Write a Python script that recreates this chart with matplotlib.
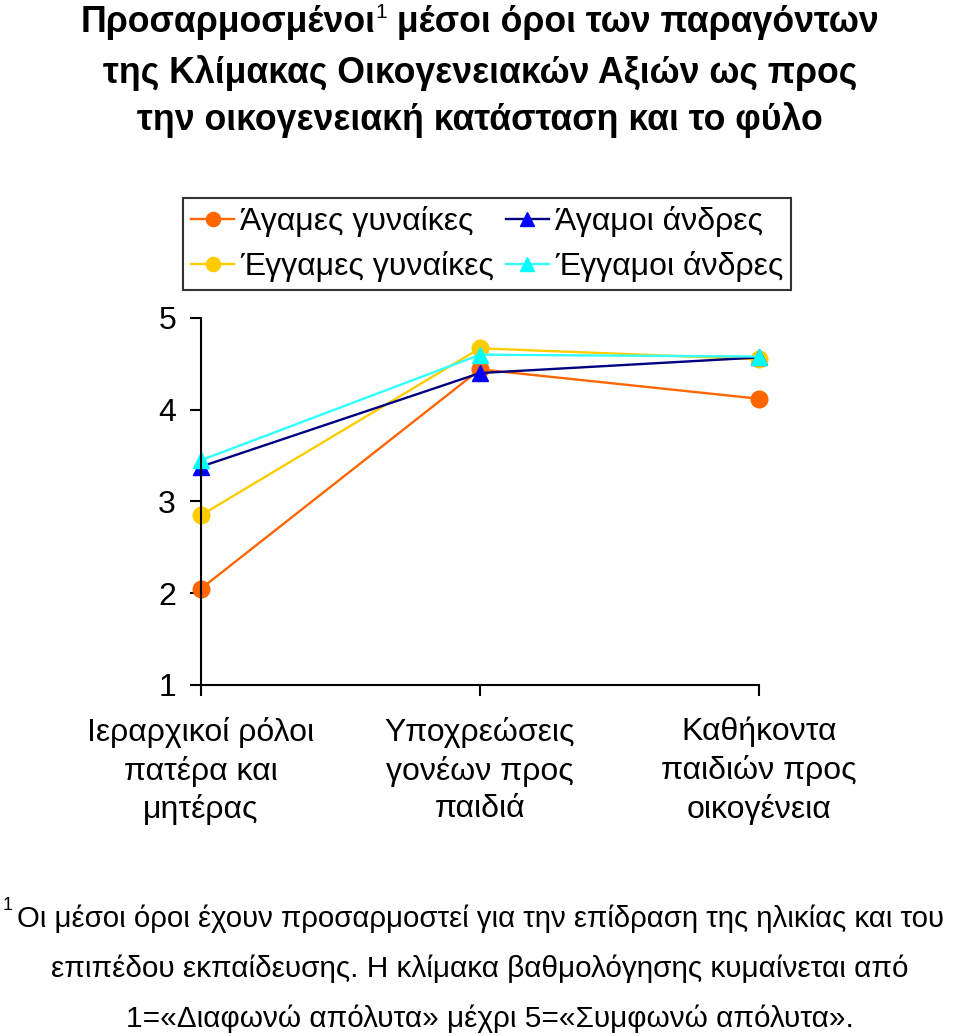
import matplotlib.pyplot as plt

plt.rcParams['font.family'] = ['Liberation Sans', 'DejaVu Sans']

# Data
categories = ['Ιεραρχικοί ρόλοι\nπατέρα και\nμητέρας',
              'Υποχρεώσεις\nγονέων προς\nπαιδιά',
              'Καθήκοντα\nπαιδιών προς\nοικογένεια']
single_women = [2.05, 4.44, 4.12]
married_women = [2.85, 4.67, 4.55]
single_men = [3.38, 4.40, 4.57]
married_men = [3.45, 4.60, 4.58]

series_names = ['Άγαμες γυναίκες', 'Έγγαμες γυναίκες', 'Άγαμοι άνδρες', 'Έγγαμοι άνδρες']

W, H = 960, 1036
fig = plt.figure(figsize=(W / 100, H / 100), dpi=100)
ax = fig.add_axes([201/W, 1 - 685/H, 558/W, 367/H])

x = range(len(categories))
l1, = ax.plot(x, single_women, color='#FF6600', marker='o', markersize=12,
              linewidth=1.7, label=series_names[0])
l2, = ax.plot(x, married_women, color='#FFCC00', marker='o', markersize=12,
              linewidth=1.7, label=series_names[1])
l3, = ax.plot(x, single_men, color='#000080', marker='^', markersize=12,
              markerfacecolor='#0000FF', markeredgecolor='#0000FF',
              linewidth=1.7, label=series_names[2])
l4, = ax.plot(x, married_men, color='#33FFFF', marker='^', markersize=12,
              markerfacecolor='#00FFFF', markeredgecolor='#00FFFF',
              linewidth=1.7, label=series_names[3])

ax.set_xlim(0, 2)
ax.set_ylim(1, 5)
ax.set_yticks([1, 2, 3, 4, 5])
ax.set_xticks(list(x))
ax.set_xticklabels(categories, fontsize=23, linespacing=1.32)
ax.tick_params(axis='y', labelsize=23, direction='out', length=8, width=1.5, pad=10)
ax.tick_params(axis='x', direction='out', length=8, width=1.5, pad=15)
for s in ['top', 'right']:
    ax.spines[s].set_visible(False)
for s in ['left', 'bottom']:
    ax.spines[s].set_linewidth(1.5)
for p in [l1, l2, l3, l4]:
    p.set_clip_on(False)

leg = fig.legend(handles=[l1, l2, l3, l4], ncol=2, fontsize=23,
                 loc='upper left', borderaxespad=0,
                 bbox_to_anchor=(183/W, 1 - 198/H),
                 bbox_transform=fig.transFigure,
                 frameon=True, fancybox=False, edgecolor='black',
                 handlelength=1.35, handletextpad=0.2, columnspacing=0.35,
                 labelspacing=0.45, borderpad=0.25, markerscale=0.85)
leg.get_frame().set_linewidth(1.5)

# Title (first line with a superscript footnote mark)
renderer = fig.canvas.get_renderer()
tfont = dict(fontsize=25.7, fontweight='bold', va='center')
y1 = 1 - 22/H
a = fig.text(0, y1, 'Προσαρμοσμένοι', **tfont)
s = fig.text(0, 1 - 12/H, '1', fontsize=15, va='center')
b = fig.text(0, y1, ' μέσοι όροι των παραγόντων', **tfont)
wa = a.get_window_extent(renderer).width
ws = s.get_window_extent(renderer).width
wb = b.get_window_extent(renderer).width
x0 = (W - (wa + ws + wb)) / 2
a.set_x(x0 / W)
s.set_x((x0 + wa) / W)
b.set_x((x0 + wa + ws) / W)
fig.text(0.5, 1 - 73/H, 'της Κλίμακας Οικογενειακών Αξιών ως προς',
         ha='center', **tfont)
fig.text(0.5, 1 - 120/H, 'την οικογενειακή κατάσταση και το φύλο',
         ha='center', **tfont)

# Footnote
fig.text(3/W, 1 - 906/H, '1', fontsize=13, va='center')
fig.text(17/W, 1 - 919/H,
         'Οι μέσοι όροι έχουν προσαρμοστεί για την επίδραση της ηλικίας και του',
         fontsize=21.2, va='center')
fig.text(480/W, 1 - 969/H,
         'επιπέδου εκπαίδευσης. Η κλίμακα βαθμολόγησης κυμαίνεται από',
         fontsize=21.4, va='center', ha='center')
fig.text(490/W, 1 - 1019/H,
         '1=«Διαφωνώ απόλυτα» μέχρι 5=«Συμφωνώ απόλυτα».',
         fontsize=21.4, va='center', ha='center')

fig.savefig('out.png', dpi=100)
